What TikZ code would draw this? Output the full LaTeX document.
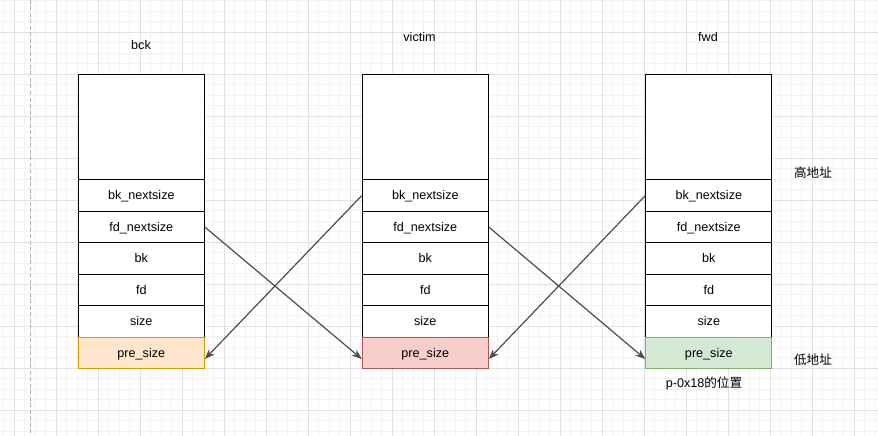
\documentclass[tikz,border=0pt]{standalone}
\usepackage{fontspec}
\setmainfont{Liberation Sans}
\newfontfamily\cjk{Noto Sans CJK SC}
\usetikzlibrary{arrows.meta}
\definecolor{minorgrid}{HTML}{F3F3F3}
\definecolor{majorgrid}{HTML}{E2E2E2}
\definecolor{dashgray}{HTML}{B3B3B3}
\definecolor{arrowgray}{HTML}{4D4D4D}
\definecolor{orfill}{HTML}{FFE6CC}\definecolor{ordraw}{HTML}{D79B00}
\definecolor{rdfill}{HTML}{F8CECC}\definecolor{rddraw}{HTML}{B85450}
\definecolor{grfill}{HTML}{D5E8D4}\definecolor{grdraw}{HTML}{82B366}
\tikzset{
  minorline/.style={draw=minorgrid, line width=0.8pt},
  majorline/.style={draw=majorgrid, line width=0.9pt},
  cell/.style={draw=black, fill=white, line width=1pt, minimum width=126pt, minimum height=31.5pt, inner sep=0pt, text height=11.4pt, text depth=2.7pt, anchor=north west, font=\fontsize{12.6}{15}\selectfont},
  topcell/.style={cell, minimum height=105pt},
  lbl/.style={font=\fontsize{12.6}{15}\selectfont, inner sep=0pt, text height=11.4pt, text depth=2.7pt},
  ptr/.style={draw=arrowgray, line width=1.2pt, -{Stealth[length=10pt,width=7.5pt,inset=3pt]}}
}
\begin{document}
\begin{tikzpicture}[x=1pt,y=-1pt]
\useasboundingbox (0,0) rectangle (878,436);
\fill[white] (0,0) rectangle (878,436);
% grid
\foreach \i in {0,...,84} {\draw[minorline] ({3.5+10.5*\i},0) -- ++(0,436);}
\foreach \i in {0,...,41} {\draw[minorline] (0,{0.8+10.5*\i}) -- ++(878,0);}
\foreach \i in {0,...,20} {\draw[majorline] ({14+42*\i},0) -- ++(0,436);}
\foreach \i in {0,...,9} {\draw[majorline] (0,{32.3+42*\i}) -- ++(878,0);}
\draw[dashgray, line width=1pt, dash pattern=on 4pt off 2.5pt] (30.3,0) -- (30.3,436);
% chunks
\foreach \nm/\x/\pf/\pd in {bck/77.8/orfill/ordraw, victim/361.8/rdfill/rddraw, fwd/645.3/grfill/grdraw} {
  \node[topcell] (\nm-top) at (\x,74.3) {};
  \node[cell] (\nm-bkns) at (\x,179.3) {bk\_nextsize};
  \node[cell] (\nm-fdns) at (\x,210.8) {fd\_nextsize};
  \node[cell] (\nm-bk) at (\x,242.3) {bk};
  \node[cell] (\nm-fd) at (\x,273.8) {fd};
  \node[cell] (\nm-size) at (\x,305.3) {size};
  \node[cell, fill=\pf, draw=\pd] (\nm-pre) at (\x,336.8) {pre\_size};
}
\node[lbl] (lbck) at (141,45) {bck};
\node[lbl] (lvictim) at (419.5,37.5) {victim};
\node[lbl] (lfwd) at (708,37.5) {fwd};
\node[lbl] (high) at (813,173) {\cjk 高地址};
\node[lbl] (low) at (813,360.5) {\cjk 低地址};
\node[lbl] (ppos) at (704,383) {p-0x18{\cjk 的位置}};
% pointers
\draw[ptr] (bck-fdns.east) -- ([yshift=-6pt]victim-pre.west);
\draw[ptr] (victim-bkns.west) -- ([yshift=-6pt]bck-pre.east);
\draw[ptr] (victim-fdns.east) -- ([yshift=-6pt]fwd-pre.west);
\draw[ptr] (fwd-bkns.west) -- ([yshift=-6pt]victim-pre.east);
\end{tikzpicture}
\end{document}
